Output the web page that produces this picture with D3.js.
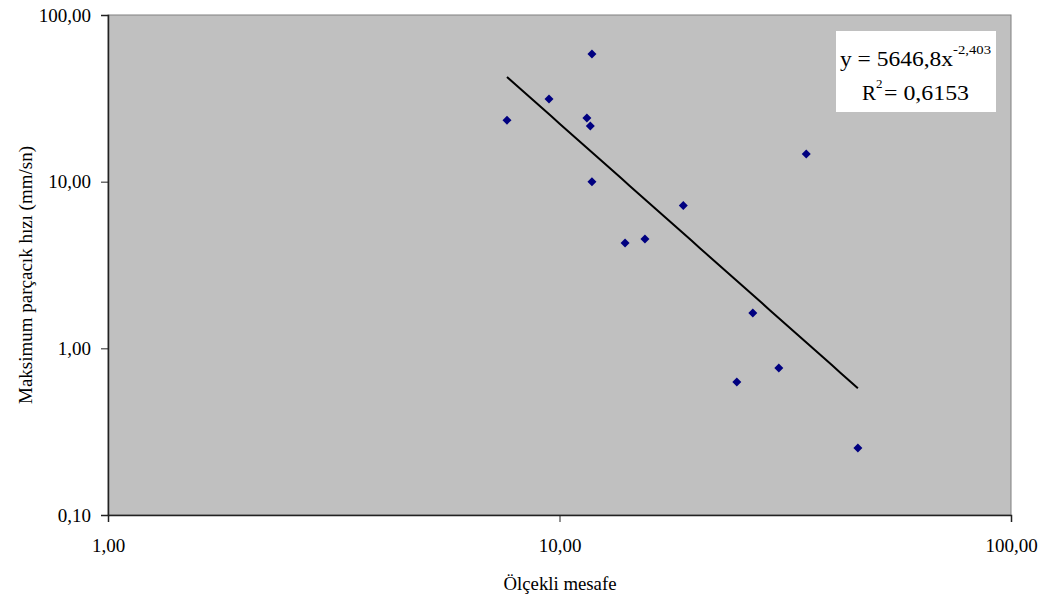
<!DOCTYPE html>
<html>
<head>
<meta charset="utf-8">
<script src="https://cdn.jsdelivr.net/npm/d3@7"></script>
<style>
  html, body { margin: 0; padding: 0; background: #fff; }
  svg { display: block; }
</style>
</head>
<body>
<svg id="chart" width="1045" height="599"></svg>
<script>
// Scaled distance (x) vs peak particle velocity (y, mm/s)
const scaledDistance = [7.65, 9.48, 11.8, 11.5, 11.7, 11.8, 13.97, 15.46, 18.8, 35.2, 24.7, 26.8, 30.6, 45.8];
const peakVelocity   = [23.4, 31.3, 58.3, 24.1, 21.6, 10.0, 4.29, 4.53, 7.2, 14.65, 0.628, 1.63, 0.762, 0.252];

// Power-law fit shown in the label box
const fitCoef = 5646.8;
const fitExp = -2.403;
const fitR2 = "0,6153";

const xTicks = [1, 10, 100];
const yTicks = [0.1, 1, 10, 100];

const FONT = "Liberation Serif";
const fmt = v => v.toFixed(2).replace(".", ",");

const svg = d3.select("#chart");
const plot = { left: 108, top: 15, right: 1011, bottom: 515 };

const x = d3.scaleLog().domain([1, 100]).range([plot.left, plot.right]);
const y = d3.scaleLog().domain([0.1, 100]).range([plot.bottom, plot.top]);

// plot area
svg.append("rect")
  .attr("x", plot.left).attr("y", plot.top)
  .attr("width", plot.right - plot.left).attr("height", plot.bottom - plot.top)
  .attr("fill", "#c0c0c0").attr("stroke", "#808080").attr("stroke-width", 1);

// axes
const xAxis = svg.append("g")
  .attr("transform", `translate(0,${plot.bottom})`)
  .call(d3.axisBottom(x).tickValues(xTicks).tickFormat(fmt).tickSize(7).tickPadding(17));
const yAxis = svg.append("g")
  .attr("transform", `translate(${plot.left},0)`)
  .call(d3.axisLeft(y).tickValues(yTicks).tickFormat(fmt).tickSize(7).tickPadding(10));

[xAxis, yAxis].forEach(g => {
  g.attr("font-family", FONT).attr("font-size", 19);
  g.select(".domain").attr("stroke", "#222").attr("stroke-width", 1.5);
  g.selectAll(".tick line").attr("stroke", "#222");
  g.selectAll(".tick text").attr("fill", "#000");
});

// trend line over the data range
const xs = d3.extent(scaledDistance);
const fitPts = d3.range(0, 41).map(i => {
  const xv = xs[0] * Math.pow(xs[1] / xs[0], i / 40);
  return [xv, fitCoef * Math.pow(xv, fitExp)];
});
svg.append("path")
  .attr("d", d3.line().x(d => x(d[0])).y(d => y(d[1]))(fitPts))
  .attr("fill", "none").attr("stroke", "#000").attr("stroke-width", 2);

// data markers
svg.append("g").selectAll("path")
  .data(scaledDistance.map((d, i) => [d, peakVelocity[i]]))
  .join("path")
  .attr("transform", d => `translate(${x(d[0])},${y(d[1])})`)
  .attr("d", "M0,-4.5L4.5,0L0,4.5L-4.5,0Z")
  .attr("fill", "#000080");

// equation box
const eqG = svg.append("g").attr("font-family", FONT).attr("fill", "#000");
eqG.append("rect")
  .attr("x", 836).attr("y", 31).attr("width", 160).attr("height", 81)
  .attr("fill", "#fff");
eqG.append("text").attr("x", 840).attr("y", 66).attr("font-size", 21)
  .attr("textLength", 113).attr("lengthAdjust", "spacingAndGlyphs")
  .text("y = " + String(fitCoef).replace(".", ",") + "x");
eqG.append("text").attr("x", 953).attr("y", 54).attr("font-size", 13)
  .attr("textLength", 38).attr("lengthAdjust", "spacingAndGlyphs")
  .text(String(fitExp).replace(".", ","));
eqG.append("text").attr("x", 862).attr("y", 100).attr("font-size", 21).text("R");
eqG.append("text").attr("x", 876).attr("y", 88).attr("font-size", 13).text("2");
eqG.append("text").attr("x", 884).attr("y", 100).attr("font-size", 21)
  .attr("textLength", 85).attr("lengthAdjust", "spacingAndGlyphs")
  .text("= " + fitR2);

// axis titles
svg.append("text")
  .attr("x", 560).attr("y", 590)
  .attr("text-anchor", "middle").attr("font-family", FONT).attr("font-size", 19)
  .attr("textLength", 113).attr("lengthAdjust", "spacingAndGlyphs")
  .text("Ölçekli mesafe");
svg.append("text")
  .attr("transform", "translate(32,275) rotate(-90)")
  .attr("text-anchor", "middle").attr("font-family", FONT).attr("font-size", 19)
  .text("Maksimum parçacık hızı (mm/sn)");
</script>
</body>
</html>
